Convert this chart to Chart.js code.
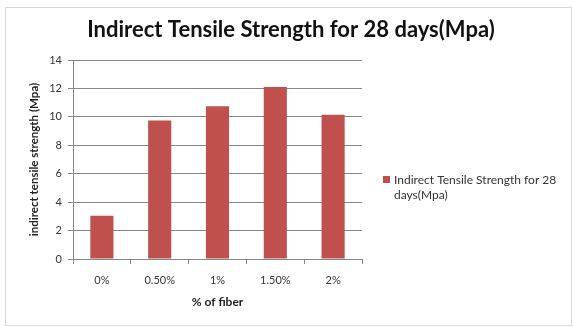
<!DOCTYPE html>
<html>
<head>
<meta charset="utf-8">
<script src="https://cdn.jsdelivr.net/npm/chart.js@4/dist/chart.umd.min.js"></script>
<style>
html,body{margin:0;padding:0;background:#fff;}
#wrap{width:573px;height:327px;position:relative;}
</style>
</head>
<body>
<div id="wrap"><canvas id="c" width="573" height="327"></canvas></div>
<script>
const chartTitle = "Indirect Tensile Strength for 28 days(Mpa)";
const categories = ["0%", "0.50%", "1%", "1.50%", "2%"];
const seriesName = "Indirect Tensile Strength for 28 days(Mpa)";
const seriesLegendLines = ["Indirect Tensile Strength for 28", "days(Mpa)"];
const values = [3.05, 9.75, 10.75, 12.1, 10.15];
const yTicks = [0, 2, 4, 6, 8, 10, 12, 14];
const xTitle = "% of fiber";
const yTitle = "indirect tensile strength (Mpa)";

const FONT = "Lato, 'Open Sans', sans-serif";
const BAR = "#C0504D";

const deco = {
  id: "deco",
  beforeDraw(chart) {
    const ctx = chart.ctx;
    ctx.save();
    ctx.fillStyle = "#fff";
    ctx.fillRect(0, 0, chart.width, chart.height);
    ctx.strokeStyle = "#d9d9d9";
    ctx.lineWidth = 1;
    ctx.strokeRect(5.5, 7.5, 566, 318);
    ctx.restore();
  },
  afterDraw(chart) {
    const ctx = chart.ctx;
    ctx.save();
    ctx.fillStyle = "#111";
    ctx.font = "bold 22px " + FONT;
    ctx.textAlign = "center";
    ctx.textBaseline = "middle";
    ctx.fillText(chartTitle, 291, 30);
    // legend
    ctx.fillStyle = BAR;
    ctx.fillRect(383, 176, 7, 7);
    ctx.fillStyle = "#333";
    ctx.font = "12px " + FONT;
    ctx.textAlign = "left";
    ctx.textBaseline = "middle";
    seriesLegendLines.forEach((t, i) => ctx.fillText(t, 394, 180 + i * 15));
    ctx.restore();
  }
};

new Chart(document.getElementById("c"), {
  type: "bar",
  data: {
    labels: categories,
    datasets: [{
      label: seriesName,
      data: values,
      backgroundColor: BAR,
      borderWidth: 0,
      categoryPercentage: 0.8,
      barPercentage: 0.5
    }]
  },
  options: {
    responsive: false,
    animation: false,
    layout: { padding: { top: 60, right: 211, bottom: 14, left: 23 } },
    plugins: { legend: { display: false }, title: { display: false }, tooltip: { enabled: false } },
    scales: {
      x: {
        afterFit(s) { s.height = 54; },
        grid: { offset: true, drawOnChartArea: false, color: "#868686", tickLength: 5 },
        border: { color: "#868686" },
        ticks: { color: "#333", font: { family: FONT, size: 11 }, padding: 10 },
        title: { display: true, text: xTitle, color: "#222", font: { family: FONT, size: 12, weight: "bold" }, padding: { top: 4, bottom: 4 } }
      },
      y: {
        min: 0, max: 14,
        afterFit(s) { s.width = 50; },
        afterBuildTicks(s) { s.ticks = yTicks.map(v => ({ value: v })); },
        grid: { color: "#868686", tickLength: 5 },
        border: { color: "#868686" },
        ticks: { color: "#333", font: { family: FONT, size: 11 }, padding: 6 },
        title: { display: true, text: yTitle, color: "#222", font: { family: FONT, size: 11.5, weight: "bold" }, padding: { top: 4, bottom: 4 } }
      }
    }
  },
  plugins: [deco]
});
</script>
</body>
</html>
